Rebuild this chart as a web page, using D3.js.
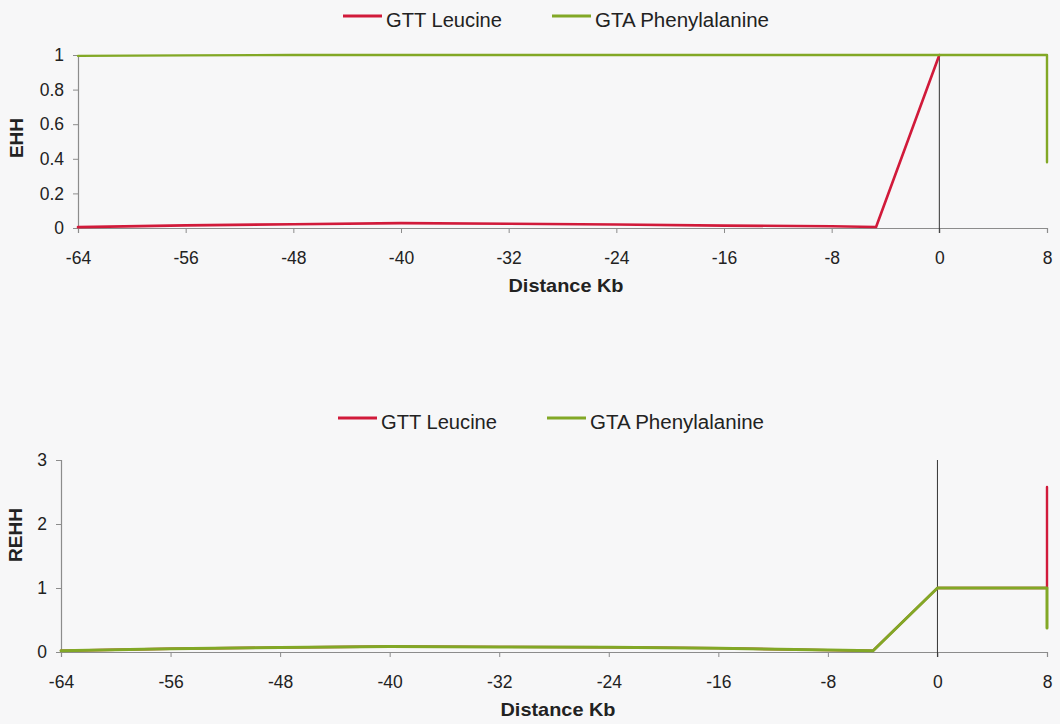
<!DOCTYPE html>
<html>
<head>
<meta charset="utf-8">
<script src="https://cdn.jsdelivr.net/npm/d3@7"></script>
<style>
  html, body { margin: 0; padding: 0; background: #f7f7f8; }
  svg { display: block; }
  text { font-family: Arial, "Liberation Sans", sans-serif; fill: #222; }
</style>
</head>
<body>
<script>
// Distance (Kb) from the core SNP and the haplotype statistics at each position
const distEHHLeucine   = [-64, -56, -48, -40, -32, -24, -16, -8, -4.7, 0];
const ehhLeucine       = [0.005, 0.015, 0.022, 0.028, 0.025, 0.02, 0.014, 0.01, 0.006, 1];
const distEHHPhenyl    = [-64, -56, -48, -40, -32, -24, -16, -8, 0, 8, 8];
const ehhPhenyl        = [0.995, 0.998, 1.0, 1.0, 1.0, 1.0, 1.0, 1.0, 1.0, 1.0, 0.38];

const distREHH         = [-64, -56, -48, -40, -32, -24, -16, -8, -4.7, 0, 8, 8];
const rehhLeucine      = [0.02, 0.05, 0.07, 0.085, 0.08, 0.075, 0.06, 0.03, 0.02, 1, 1, 2.58];
const rehhPhenyl       = [0.02, 0.05, 0.07, 0.085, 0.08, 0.075, 0.06, 0.03, 0.02, 1, 1, 0.375];

const xTicks    = [-64, -56, -48, -40, -32, -24, -16, -8, 0, 8];
const ehhTicks  = [0, 0.2, 0.4, 0.6, 0.8, 1];
const rehhTicks = [0, 1, 2, 3];
const seriesNames = ["GTT Leucine", "GTA Phenylalanine"];

const RED = "#d11a3a", GREEN = "#82a826", AXIS = "#8c8c8c";
const FONT = "Arial, 'Liberation Sans', sans-serif";

const svg = d3.select("body").append("svg")
  .attr("width", 1060).attr("height", 724);

function zip(xs, ys) { return xs.map((x, i) => ({x, y: ys[i]})); }

function panel(opts) {
  const g = svg.append("g");
  const x = d3.scaleLinear().domain([-64, 8]).range([opts.left, opts.right]);
  const y = d3.scaleLinear().domain(opts.yDomain).range([opts.bottom, opts.top]);

  // y axis
  const ya = g.append("g").attr("transform", `translate(${opts.left},0)`)
    .call(d3.axisLeft(y).tickValues(opts.yTicks).tickSize(5).tickPadding(9)
      .tickFormat(d => String(d)));
  ya.select(".domain").attr("stroke", AXIS).attr("stroke-width", 1.2);
  ya.selectAll(".tick line").attr("stroke", AXIS);
  ya.selectAll(".tick text").attr("font-size", 17.5).attr("fill", "#222")
    .attr("font-family", FONT);

  // x axis
  const xa = g.append("g").attr("transform", `translate(0,${opts.bottom})`)
    .call(d3.axisBottom(x).tickValues(xTicks).tickSize(5).tickPadding(19)
      .tickFormat(d => String(d)));
  xa.select(".domain").attr("stroke", AXIS).attr("stroke-width", 1.2);
  xa.selectAll(".tick line").attr("stroke", AXIS);
  xa.selectAll(".tick text").attr("font-size", 17.5).attr("fill", "#222")
    .attr("font-family", FONT);

  // core position marker
  g.append("line")
    .attr("x1", x(0)).attr("x2", x(0))
    .attr("y1", y(opts.yDomain[1])).attr("y2", opts.bottom + 5)
    .attr("stroke", "#333").attr("stroke-width", 1);

  const line = d3.line().x(d => x(d.x)).y(d => y(d.y));
  opts.series.forEach(s => {
    g.append("path").datum(s.data)
      .attr("d", line).attr("fill", "none")
      .attr("stroke", s.color).attr("stroke-width", s.width)
      .attr("stroke-linejoin", "round").attr("stroke-linecap", "round");
  });

  // axis titles
  g.append("text")
    .attr("transform", `translate(${opts.yTitleX},${opts.yTitleY}) rotate(-90)`)
    .attr("text-anchor", "middle").attr("font-size", 19).attr("font-weight", "bold")
    .text(opts.yTitle);
  g.append("text")
    .attr("x", opts.xTitleX).attr("y", opts.xTitleY)
    .attr("text-anchor", "middle").attr("font-size", 19).attr("font-weight", "bold")
    .attr("textLength", 115).attr("lengthAdjust", "spacingAndGlyphs")
    .text("Distance Kb");

  // legend
  const lg = g.append("g");
  const items = [
    {name: seriesNames[0], color: RED, x: opts.legendX[0], w: 116},
    {name: seriesNames[1], color: GREEN, x: opts.legendX[1], w: 174}
  ];
  items.forEach(it => {
    lg.append("line")
      .attr("x1", it.x).attr("x2", it.x + 39)
      .attr("y1", opts.legendY).attr("y2", opts.legendY)
      .attr("stroke", it.color).attr("stroke-width", 3);
    lg.append("text")
      .attr("x", it.x + 43).attr("y", opts.legendY + 11)
      .attr("font-size", 19.5)
      .attr("textLength", it.w).attr("lengthAdjust", "spacingAndGlyphs")
      .text(it.name);
  });
}

panel({
  left: 78, right: 1047, top: 55, bottom: 228,
  yDomain: [0, 1], yTicks: ehhTicks, yTitle: "EHH", yTitleX: 23, yTitleY: 138,
  xTitleX: 566, xTitleY: 292,
  legendX: [343, 552], legendY: 16,
  series: [
    {color: RED, width: 2.6, data: zip(distEHHLeucine, ehhLeucine)},
    {color: GREEN, width: 2.4, data: zip(distEHHPhenyl, ehhPhenyl)}
  ]
});

panel({
  left: 61, right: 1047, top: 460, bottom: 652,
  yDomain: [0, 3], yTicks: rehhTicks, yTitle: "REHH", yTitleX: 22, yTitleY: 535,
  xTitleX: 558, xTitleY: 716,
  legendX: [338, 547], legendY: 418,
  series: [
    {color: RED, width: 2.4, data: zip(distREHH, rehhLeucine)},
    {color: GREEN, width: 3, data: zip(distREHH, rehhPhenyl)}
  ]
});
</script>
</body>
</html>
